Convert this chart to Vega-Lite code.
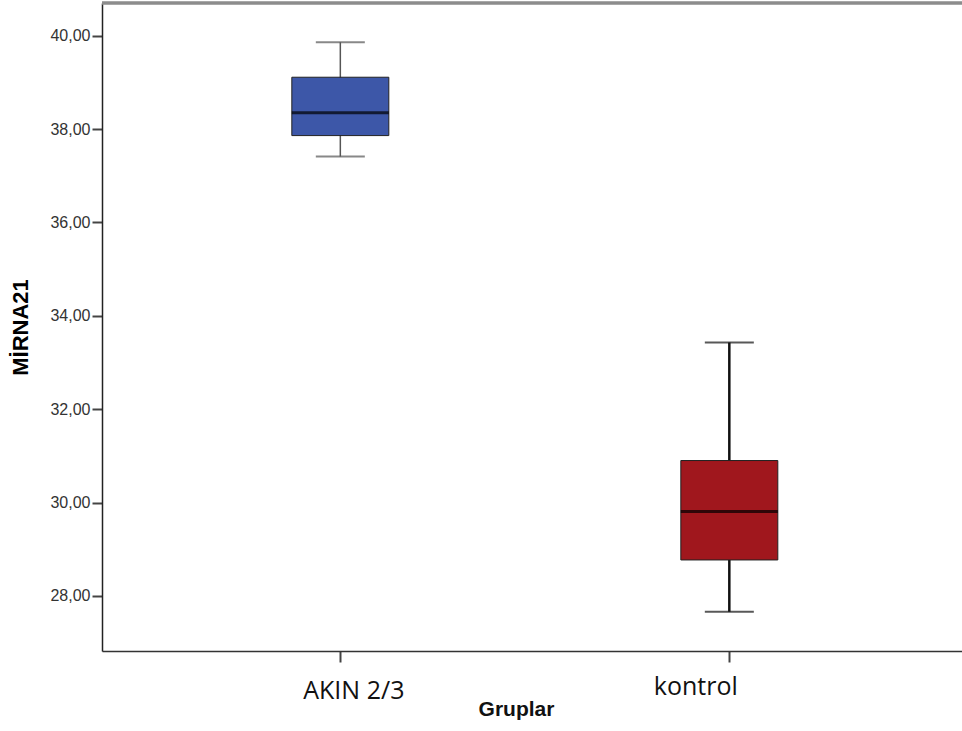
{
  "$schema": "https://vega.github.io/schema/vega-lite/v6.json",
  "width": 860,
  "height": 648,
  "autosize": {"type": "none"},
  "padding": {"left": 102, "top": 3, "right": 0, "bottom": 80},
  "background": "white",
  "config": {"view": {"stroke": null}},
  "data": {
    "values": [
      {"group": "AKIN 2/3", "min": 37.41, "q1": 37.86, "median": 38.35, "q3": 39.11, "max": 39.86},
      {"group": "kontrol", "min": 27.66, "q1": 28.77, "median": 29.81, "q3": 30.9, "max": 33.43}
    ]
  },
  "layer": [
    {
      "mark": {"type": "rule", "color": "#8c8c8c", "strokeWidth": 3},
      "encoding": {
        "y": {
          "datum": 40.7,
          "type": "quantitative",
          "scale": {"domain": [26.82, 40.7], "nice": false, "zero": false},
          "axis": {
            "title": "MİRNA21",
            "titleFont": "Liberation Sans",
            "titleFontSize": 22,
            "titleFontWeight": "bold",
            "titleColor": "#000",
            "titlePadding": 17,
            "values": [28, 30, 32, 34, 36, 38, 40],
            "labelExpr": "replace(format(datum.value, '.2f'), '.', ',')",
            "labelFont": "Liberation Sans",
            "labelFontSize": 16,
            "labelColor": "#333",
            "labelPadding": 2,
            "tickSize": 10,
            "tickWidth": 2,
            "tickColor": "#444",
            "domainColor": "#222",
            "domainWidth": 1.5,
            "grid": false
          }
        }
      }
    },
    {
      "mark": {"type": "rule"},
      "encoding": {
        "x": {
          "field": "group",
          "type": "nominal",
          "scale": {"type": "point", "padding": 0.6054, "align": 0.506},
          "axis": {
            "title": "Gruplar",
            "titleFont": "Liberation Sans",
            "titleFontSize": 21,
            "titleFontWeight": "bold",
            "titleColor": "#111",
            "titleX": 414,
            "titleY": 64,
            "titleBaseline": "alphabetic",
            "labelFont": "Open Sans",
            "labelFontSize": 25,
            "labelAngle": 0,
            "labelColor": "#111",
            "labelBaseline": "alphabetic",
            "labelOffset": {"condition": {"test": "datum.value === 'kontrol'", "value": -34}, "value": 13},
            "labelPadding": {"condition": {"test": "datum.value === 'kontrol'", "value": 32}, "value": 36},
            "tickSize": 11,
            "tickWidth": 2,
            "tickColor": "#444",
            "domainColor": "#333",
            "domainWidth": 1.5
          }
        },
        "y": {"field": "min", "type": "quantitative"},
        "y2": {"field": "max"},
        "color": {"condition": {"test": "datum.group === 'kontrol'", "value": "#111"}, "value": "#555"},
        "strokeWidth": {"condition": {"test": "datum.group === 'kontrol'", "value": 2.5}, "value": 1.5}
      }
    },
    {
      "mark": {"type": "bar", "size": 97, "stroke": "#222", "strokeWidth": 1},
      "encoding": {
        "x": {"field": "group", "type": "nominal"},
        "y": {"field": "q1", "type": "quantitative"},
        "y2": {"field": "q3"},
        "color": {"condition": {"test": "datum.group === 'kontrol'", "value": "#A0171D"}, "value": "#3D57A8"}
      }
    },
    {
      "mark": {"type": "tick", "size": 97, "thickness": 3, "color": "#000"},
      "encoding": {
        "x": {"field": "group", "type": "nominal"},
        "y": {"field": "median", "type": "quantitative"}
      }
    },
    {
      "mark": {"type": "tick", "size": 49, "thickness": 2},
      "encoding": {
        "x": {"field": "group", "type": "nominal"},
        "y": {"field": "min", "type": "quantitative"},
        "color": {"condition": {"test": "datum.group === 'kontrol'", "value": "#111"}, "value": "#555"}
      }
    },
    {
      "mark": {"type": "tick", "size": 49, "thickness": 2},
      "encoding": {
        "x": {"field": "group", "type": "nominal"},
        "y": {"field": "max", "type": "quantitative"},
        "color": {"condition": {"test": "datum.group === 'kontrol'", "value": "#111"}, "value": "#555"}
      }
    }
  ]
}
